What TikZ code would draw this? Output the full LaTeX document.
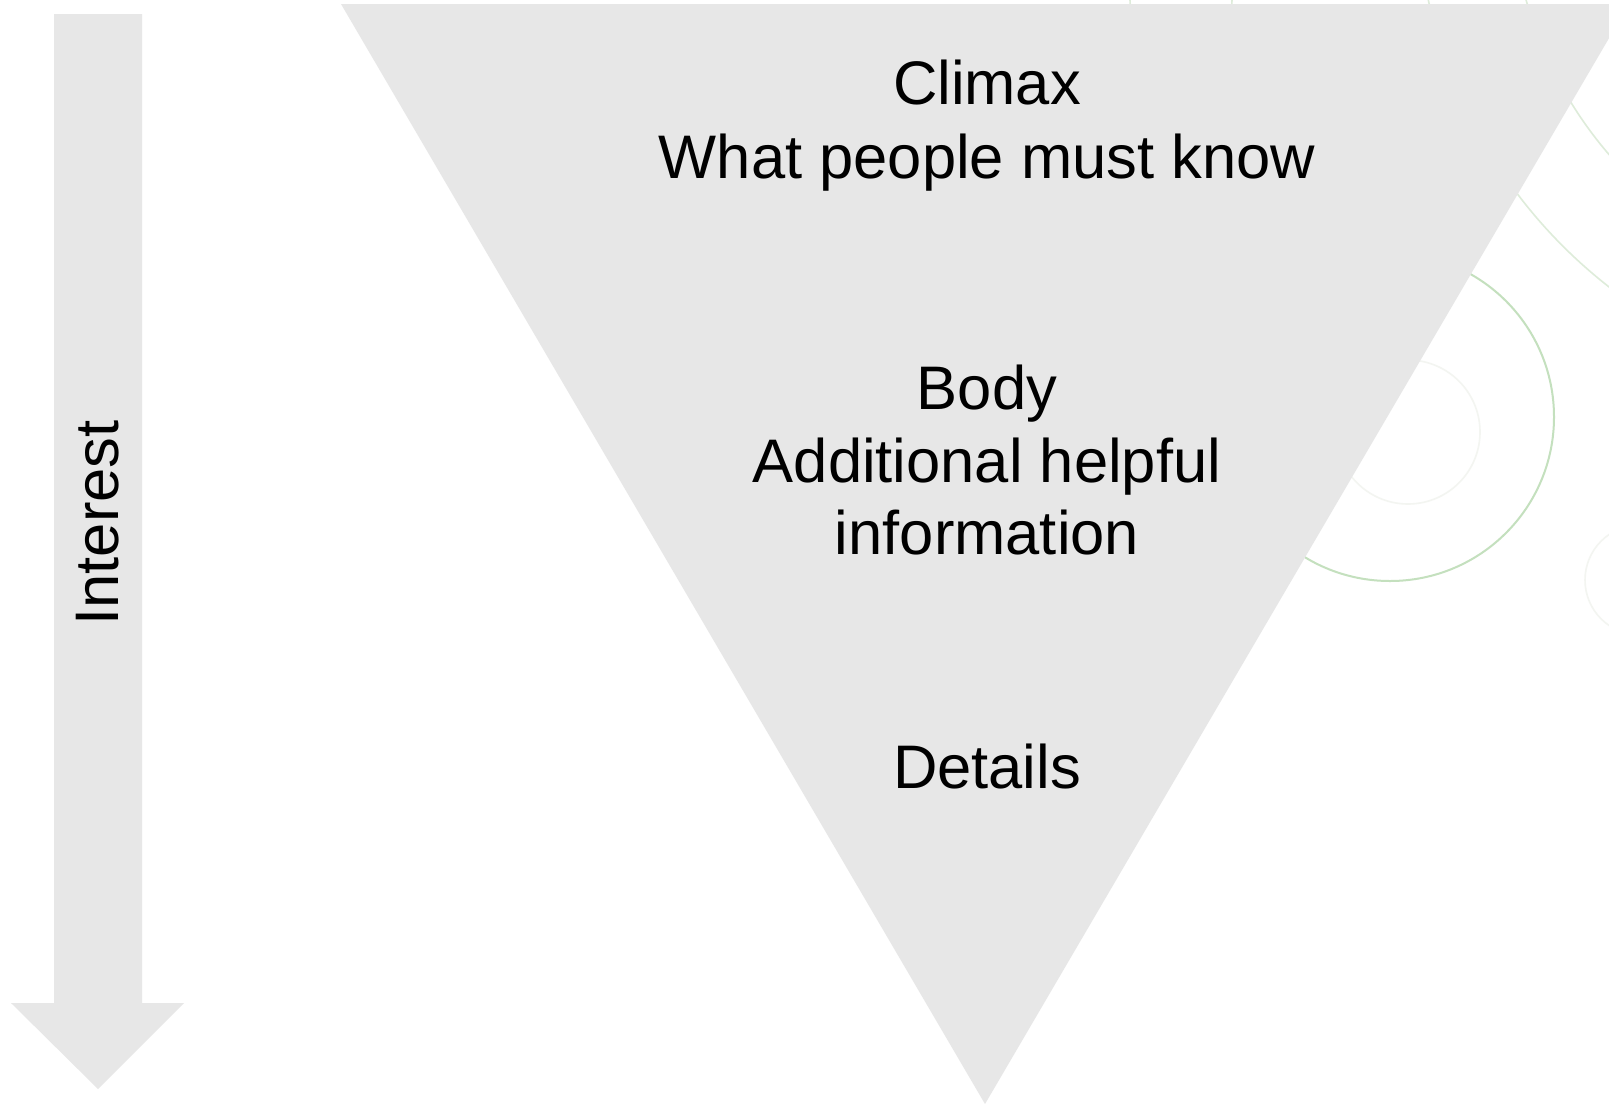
\documentclass[tikz,border=0pt]{standalone}
\usepackage{fontspec}
\setmainfont{Liberation Sans}
\definecolor{funnelgray}{RGB}{231,231,231}
\definecolor{ringgreen}{RGB}{196,224,190}
\definecolor{ringpale}{RGB}{222,236,218}
\definecolor{ringfaint}{RGB}{243,245,241}
\begin{document}
\begin{tikzpicture}[x=1pt,y=-1pt,
  label/.style={font=\fontsize{61.5}{74}\selectfont, inner sep=0pt, anchor=base, text=black},
  ring/.style={line width=2pt, draw=ringgreen},
  palering/.style={line width=1.6pt, draw=ringpale},
  faintring/.style={line width=1.6pt, draw=ringfaint}]
\useasboundingbox (0,0) rectangle (1609,1104);
\clip (0,0) rectangle (1609,1104);
\fill[white] (0,0) rectangle (1609,1104);

% decorative rings behind the funnel
\draw[palering] (1917,-110) circle[radius=406];
\draw[palering] (1915,-106) circle[radius=498];
\draw[palering] (1181,0) circle[radius=51];
\draw[ring] (1390,417) circle[radius=164];
\draw[faintring] (1408,432) circle[radius=72];
\draw[faintring] (1640,580) circle[radius=55];

% inverted funnel
\fill[funnelgray] (341,4) -- (1629,4) -- (985,1104) -- cycle;

% downward arrow
\fill[funnelgray] (54,14) -- (142,14) -- (142,1003) -- (184,1003)
  -- (98,1089) -- (11,1003) -- (54,1003) -- cycle;

% funnel labels
\node[label] (climax) at (987,104) {Climax};
\node[label] (know) at (987,178) {What people must know};
\node[label] (body) at (987,409) {Body};
\node[label] (additional) at (987,482) {Additional helpful};
\node[label] (information) at (987,554) {information};
\node[label] (details) at (987,788) {Details};

% arrow label
\node[label, rotate=90] (interest) at (118,523) {Interest};
\end{tikzpicture}
\end{document}
